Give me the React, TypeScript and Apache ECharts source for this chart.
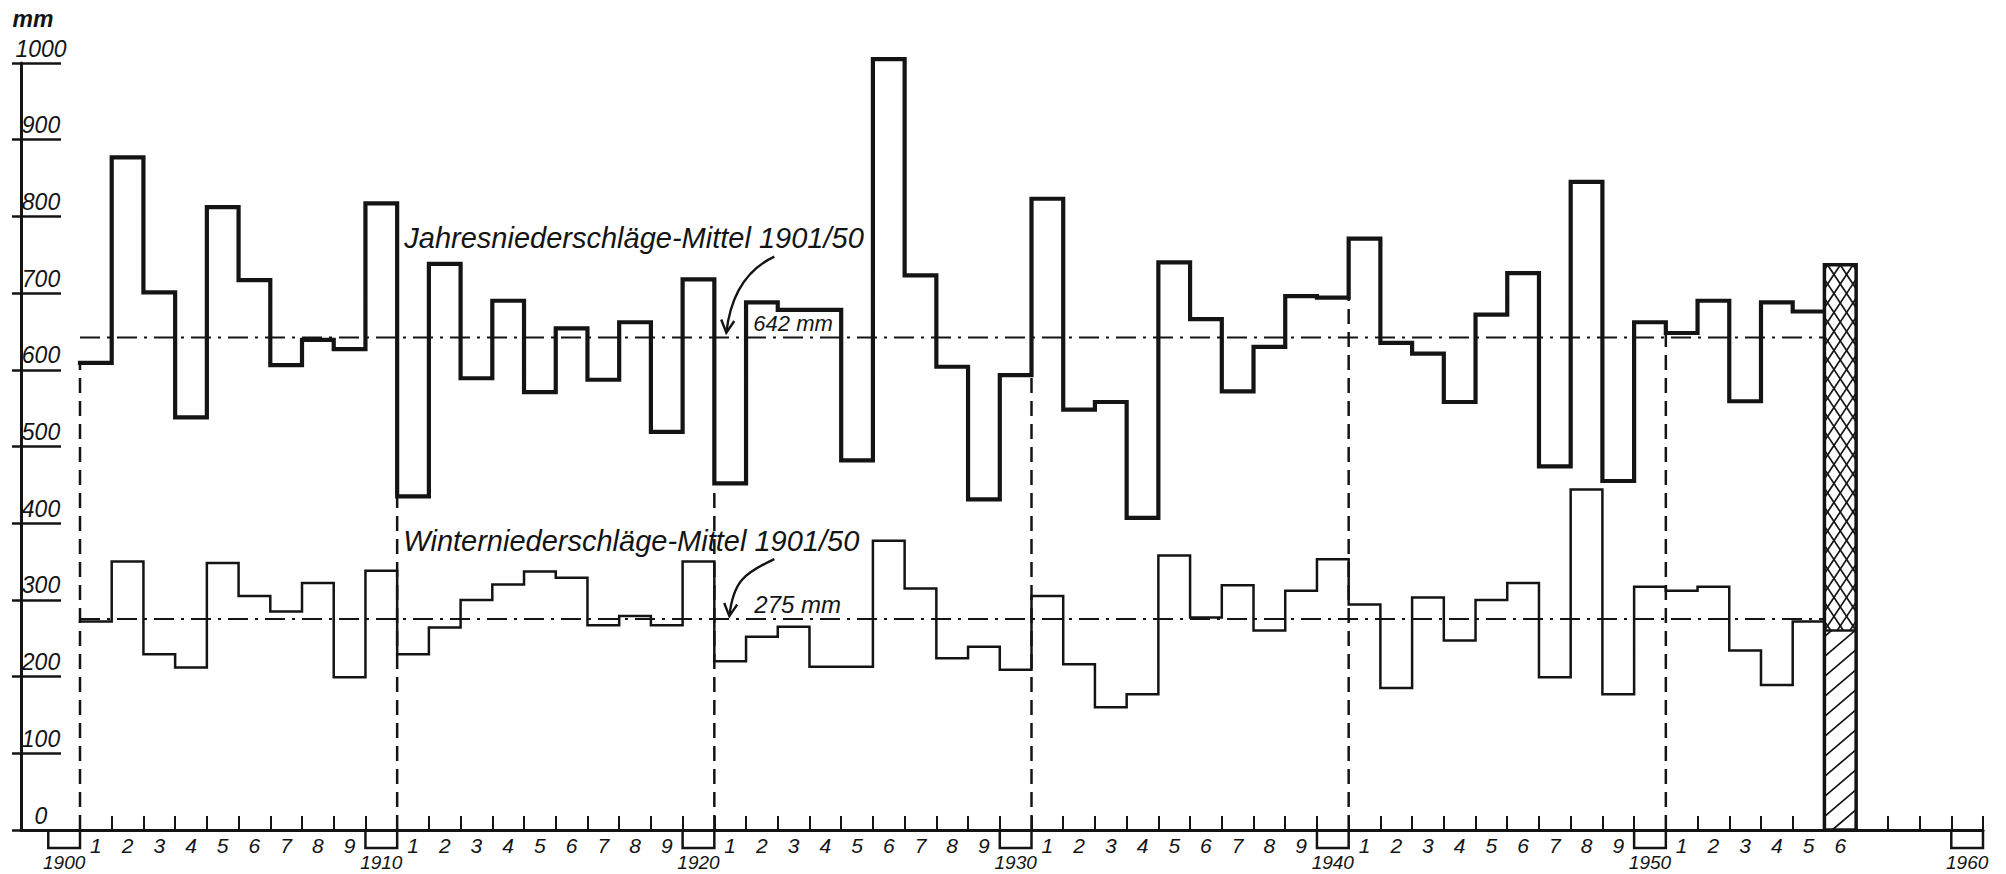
import React, { useEffect, useRef } from "react";
import * as echarts from "echarts";

// ---------- data ----------
const firstYear = 1901;
// Jahresniederschläge (annual precipitation), mm, 1901 … 1956
const annual = [
  609, 877, 701, 538, 812, 717, 606, 639, 627, 817,
  435, 738, 589, 690, 571, 654, 587, 662, 519, 718,
  452, 688, 678, 678, 482, 1005, 723, 604, 431, 593,
  823, 548, 558, 407, 740, 666, 572, 630, 696, 694,
  771, 635, 621, 558, 672, 726, 474, 845, 455, 662,
  648, 690, 559, 688, 676, 737,
];
// Winterniederschläge (winter precipitation), mm, 1901 … 1956
const winter = [
  272, 350, 229, 212, 348, 305, 285, 322, 199, 338,
  229, 264, 300, 320, 337, 329, 267, 279, 267, 350,
  220, 252, 265, 213, 213, 377, 315, 224, 239, 209,
  305, 216, 160, 177, 358, 277, 319, 260, 312, 353,
  294, 185, 303, 247, 300, 322, 199, 444, 177, 317,
  312, 317, 234, 189, 272, 260,
];
const years = annual.map((_, i) => firstYear + i);
const highlightYear = 1956; // hatched bar
const annualMean = 642;
const winterMean = 275;
const meanFrom = 1900;
const meanTo = 1955;
const decades = [1900, 1910, 1920, 1930, 1940, 1950, 1960];
const axisStartYear = 1900;
const axisEndYear = 1960;
const annualTitle = "Jahresniederschläge-Mittel 1901/50";
const winterTitle = "Winterniederschläge-Mittel 1901/50";
const annotationAnchorYear = 1920;

// ---------- styling ----------
const ink = "#141414";
const font = "'Liberation Sans', Arial, sans-serif";
const X_MIN = 1898.14;
const X_MAX = 1960;

const tickYears: number[] = [];
for (let y = axisStartYear; y <= axisEndYear; y++) tickYears.push(y);
const digitLabelValues = years.filter((y) => y % 10 !== 0).map((y) => y - 0.5);
const decadeLabelValues = decades.map((d) => d - 0.5);

const lineYears = years.filter((y) => y < highlightYear);
function stepData(vals: number[]) {
  const pts = lineYears.map((y, i) => [y - 1, vals[i]]);
  const last = lineYears.length - 1;
  pts.push([lineYears[last], vals[last]]);
  return pts;
}

const dashedData = decades
  .filter((d) => d < axisEndYear)
  .map((d) => {
    const after = annual[d + 1 - firstYear];
    const idxBefore = d - firstYear;
    const before = idxBefore >= 0 ? annual[idxBefore] : after;
    return [d, Math.min(before, after)];
  });

const hIdx = highlightYear - firstYear;
const hatchData = [[highlightYear, winter[hIdx], annual[hIdx]]];

function hatchLines(
  x0: number, x1: number, yTop: number, yBot: number,
  k: number, s: number, dir: number, phase: number
) {
  const w = x1 - x0;
  const segs: number[][] = [];
  if (dir > 0) {
    for (let c = yTop + phase; c < yBot + k * w; c += s) {
      const t1 = Math.max(0, (c - yBot) / k);
      const t2 = Math.min(w, (c - yTop) / k);
      if (t2 > t1) segs.push([x0 + t1, c - k * t1, x0 + t2, c - k * t2]);
    }
  } else {
    for (let c = yTop - k * w + phase; c < yBot; c += s) {
      const t1 = Math.max(0, (yTop - c) / k);
      const t2 = Math.min(w, (yBot - c) / k);
      if (t2 > t1) segs.push([x0 + t1, c + k * t1, x0 + t2, c + k * t2]);
    }
  }
  return segs;
}

const annotations = [
  {
    title: annualTitle,
    label: `${annualMean} mm`,
    titleDx: -310, titleDy: -100,
    labelDx: 39, labelDy: -3, labelSize: 22,
    start: [60, -81], tip: [12, -5],
  },
  {
    title: winterTitle,
    label: `${winterMean} mm`,
    titleDx: -311, titleDy: -78,
    labelDx: 40, labelDy: -3, labelSize: 24,
    start: [60, -60], tip: [15, -3],
  },
];

function textEl(text: string, x: number, y: number, size: number, align: string, vAlign: string) {
  return {
    type: "text",
    x, y,
    style: {
      text,
      fill: ink,
      fontSize: size,
      fontFamily: font,
      fontStyle: "italic",
      align, textAlign: align,
      verticalAlign: vAlign, textVerticalAlign: vAlign,
    },
  };
}

export default function App() {
  const ref = useRef<HTMLDivElement>(null);

  useEffect(() => {
    if (!ref.current) return;
    const chart = echarts.init(ref.current, null, { renderer: "svg" });

    const labelStyle = { color: ink, fontFamily: font, fontStyle: "italic" as const };

    const option: any = {
      animation: false,
      backgroundColor: "#ffffff",
      grid: { left: 21, right: 23, top: 63, bottom: 44 },
      xAxis: [
        {
          type: "value", min: X_MIN, max: X_MAX, position: "bottom",
          axisLine: { show: true, onZero: false, lineStyle: { color: ink, width: 3 } },
          axisTick: { show: true, inside: true, length: 14, customValues: tickYears, lineStyle: { color: ink, width: 2 } },
          axisLabel: {
            show: true, customValues: digitLabelValues,
            formatter: (v: number) => String(Math.round(v + 0.5) % 10),
            margin: 5, fontSize: 21, ...labelStyle,
          },
          splitLine: { show: false },
        },
        {
          type: "value", min: X_MIN, max: X_MAX, position: "bottom",
          axisLine: { show: false }, axisTick: { show: false },
          axisLabel: {
            show: true, customValues: decadeLabelValues,
            formatter: (v: number) => String(Math.round(v + 0.5)),
            margin: 23, fontSize: 19, ...labelStyle,
          },
          splitLine: { show: false },
        },
      ],
      yAxis: [
        {
          type: "value", min: 0, max: 1000, interval: 100, position: "left",
          name: "mm", nameLocation: "end", nameGap: 44,
          nameTextStyle: {
            color: ink, fontFamily: font, fontStyle: "italic", fontWeight: "bold",
            fontSize: 23, align: "center", verticalAlign: "middle", padding: [0, 0, 0, 24],
          },
          axisLine: { show: true, onZero: false, lineStyle: { color: ink, width: 3 } },
          axisTick: { show: true, inside: true, length: 40, lineStyle: { color: ink, width: 2.5 } },
          axisLabel: {
            margin: -20, align: "center", verticalAlign: "bottom", padding: [0, 0, 3, 0],
            fontSize: 23, formatter: (v: number) => String(v), ...labelStyle,
          },
          splitLine: { show: false },
        },
        {
          type: "value", min: 0, max: 1000, interval: 100, position: "left",
          axisLine: { show: false },
          axisTick: { show: true, inside: false, length: 9, lineStyle: { color: ink, width: 2.5 } },
          axisLabel: { show: false },
          splitLine: { show: false },
        },
      ],
      series: [
        {
          name: "Jahresmittel", type: "line", silent: true, z: 1,
          data: [[meanFrom, annualMean], [meanTo, annualMean]],
          showSymbol: false, symbol: "none",
          lineStyle: { color: ink, width: 2, type: [20, 7, 3, 7] },
        },
        {
          name: "Wintermittel", type: "line", silent: true, z: 1,
          data: [[meanFrom, winterMean], [meanTo, winterMean]],
          showSymbol: false, symbol: "none",
          lineStyle: { color: ink, width: 2, type: [20, 7, 3, 7] },
        },
        {
          name: "Dekaden", type: "custom", silent: true, z: 2,
          data: dashedData,
          renderItem: (_p: any, api: any) => {
            const x = api.value(0);
            const a = api.coord([x, 0]);
            const b = api.coord([x, api.value(1)]);
            return {
              type: "line",
              shape: { x1: a[0], y1: a[1], x2: b[0], y2: b[1] },
              style: { stroke: ink, lineWidth: 2.5, lineDash: [15, 8], fill: null },
            };
          },
        },
        {
          name: "Jahresniederschläge", type: "line", silent: true, z: 3,
          data: stepData(annual), step: "end", clip: false,
          showSymbol: false, symbol: "none",
          lineStyle: { color: ink, width: 4.2, join: "miter", cap: "square" },
        },
        {
          name: "Winterniederschläge", type: "line", silent: true, z: 3,
          data: stepData(winter), step: "end", clip: false,
          showSymbol: false, symbol: "none",
          lineStyle: { color: ink, width: 2.5, join: "miter", cap: "square" },
        },
        {
          name: "Dekadenkasten", type: "custom", silent: true, z: 3,
          data: decades.map((d) => [d, 0]),
          renderItem: (_p: any, api: any) => {
            const d = api.value(0);
            const a = api.coord([d - 1, 0]);
            const b = api.coord([d, 0]);
            const h = 18;
            return {
              type: "polyline",
              shape: { points: [[a[0], a[1]], [a[0], a[1] + h], [b[0], b[1] + h], [b[0], b[1]]] },
              style: { stroke: ink, lineWidth: 2.5, fill: null },
            };
          },
        },
        {
          name: String(highlightYear), type: "custom", silent: true, z: 4,
          data: hatchData,
          renderItem: (_p: any, api: any) => {
            const yr = api.value(0);
            const wv = api.value(1);
            const av = api.value(2);
            const bl = api.coord([yr - 1, 0]);
            const tr = api.coord([yr, av]);
            const wy = api.coord([yr, wv])[1];
            const x0 = bl[0], x1 = tr[0], yBot = bl[1], yTop = tr[1];
            const children: any[] = [];
            children.push({
              type: "rect",
              shape: { x: x0, y: yTop, width: x1 - x0, height: yBot - yTop },
              style: { fill: "#ffffff", stroke: null },
            });
            const hs = { stroke: ink, lineWidth: 1.7 };
            const cross = [
              ...hatchLines(x0, x1, yTop, wy, 1.5, 19, 1, 5),
              ...hatchLines(x0, x1, yTop, wy, 1.5, 19, -1, 5),
            ];
            const diag = hatchLines(x0, x1, wy, yBot, 0.85, 20, 1, 6);
            [...cross, ...diag].forEach((s) =>
              children.push({ type: "line", shape: { x1: s[0], y1: s[1], x2: s[2], y2: s[3] }, style: hs })
            );
            children.push({
              type: "line", shape: { x1: x0, y1: wy, x2: x1, y2: wy },
              style: { stroke: ink, lineWidth: 2.5 },
            });
            children.push({
              type: "rect",
              shape: { x: x0, y: yTop, width: x1 - x0, height: yBot - yTop },
              style: { fill: null, stroke: ink, lineWidth: 3.5 },
            });
            return { type: "group", children };
          },
        },
        {
          name: "Beschriftung", type: "custom", silent: true, z: 5,
          data: [[annotationAnchorYear, annualMean], [annotationAnchorYear, winterMean]],
          renderItem: (params: any, api: any) => {
            const cfg = annotations[params.dataIndex];
            const p = api.coord([api.value(0), api.value(1)]);
            const sx = p[0] + cfg.start[0], sy = p[1] + cfg.start[1];
            const tx = p[0] + cfg.tip[0], ty = p[1] + cfg.tip[1];
            const c1x = sx - 30, c1y = sy + 14;
            const c2x = tx + 4, c2y = ty - 35;
            let dx = c2x - tx, dy = c2y - ty;
            const len = Math.sqrt(dx * dx + dy * dy);
            dx /= len; dy /= len;
            const barb = 14, ang = (28 * Math.PI) / 180;
            const b1 = [tx + barb * (dx * Math.cos(ang) - dy * Math.sin(ang)), ty + barb * (dx * Math.sin(ang) + dy * Math.cos(ang))];
            const b2 = [tx + barb * (dx * Math.cos(-ang) - dy * Math.sin(-ang)), ty + barb * (dx * Math.sin(-ang) + dy * Math.cos(-ang))];
            return {
              type: "group",
              children: [
                textEl(cfg.title, p[0] + cfg.titleDx, p[1] + cfg.titleDy, 29, "left", "middle"),
                textEl(cfg.label, p[0] + cfg.labelDx, p[1] + cfg.labelDy, cfg.labelSize, "left", "bottom"),
                {
                  type: "bezierCurve",
                  shape: { x1: sx, y1: sy, cpx1: c1x, cpy1: c1y, cpx2: c2x, cpy2: c2y, x2: tx, y2: ty },
                  style: { stroke: ink, lineWidth: 2.4, fill: null },
                },
                {
                  type: "polyline",
                  shape: { points: [b1, [tx, ty], b2] },
                  style: { stroke: ink, lineWidth: 2.4, fill: null },
                },
              ],
            };
          },
        },
      ],
    };

    chart.setOption(option);
    return () => chart.dispose();
  }, []);

  return (
    <div
      ref={ref}
      style={{ position: "absolute", left: 0, top: 0, width: 2006, height: 874, background: "#ffffff" }}
    />
  );
}
